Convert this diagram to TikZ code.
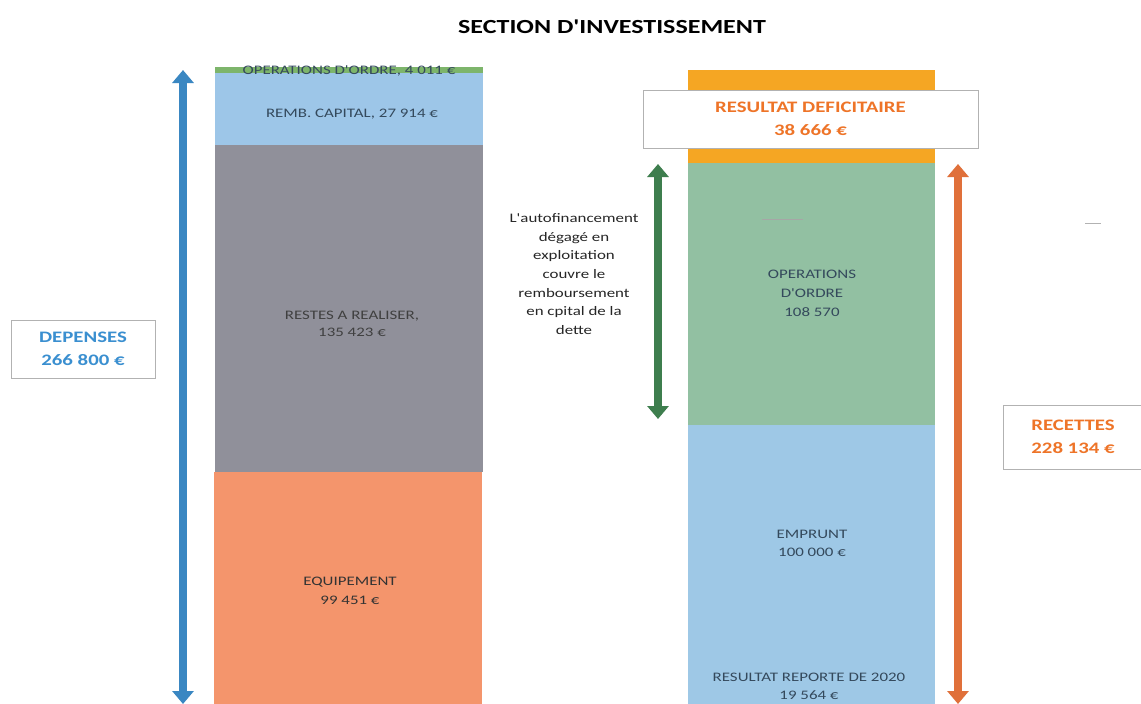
\documentclass[tikz,border=0pt]{standalone}
\usepackage{fontspec}
\setmainfont{Carlito}[FakeStretch=1.3, Ligatures=TeXOff]
\usetikzlibrary{arrows.meta}
\definecolor{cblue}{HTML}{9DC6E8}
\definecolor{cgrey}{HTML}{90909A}
\definecolor{corange}{HTML}{F4956C}
\definecolor{cgreen}{HTML}{7DB56B}
\definecolor{rorange}{HTML}{F5A623}
\definecolor{rgreen}{HTML}{92C0A2}
\definecolor{rblue}{HTML}{9EC8E6}
\definecolor{arrblue}{HTML}{3A87C2}
\definecolor{arrgreen}{HTML}{3E7E4E}
\definecolor{arrorange}{HTML}{E0703A}
\definecolor{lbltext}{HTML}{34495C}
\definecolor{deptext}{HTML}{3A8FD0}
\definecolor{rectext}{HTML}{EE7428}
\tikzset{
  region/.style={fill=#1, draw=none, inner sep=0pt},
  lbl/.style={font=\fontsize{13}{16}\selectfont, text=lbltext, align=center},
  bigarrow/.style={line width=8pt, draw=#1, {Triangle[width=21pt,length=13pt]}-{Triangle[width=21pt,length=13pt]}, shorten <=0pt, shorten >=0pt},
  sumbox/.style={draw=gray!60, line width=0.8pt, fill=white, align=center, font=\bfseries\fontsize{16}{23}\selectfont}
}
\begin{document}
\begin{tikzpicture}[x=1pt,y=-1pt]
\useasboundingbox (0,0) rectangle (1141,704);
\fill[white] (0,0) rectangle (1141,704);
% title
\node[font=\bfseries\fontsize{20}{22}\selectfont] (title) at (612,27) {SECTION D'INVESTISSEMENT};
% left column
\path[region=cgreen] (215,67) rectangle (483,73);
\node[region=cblue, minimum width=268pt, minimum height=72pt] (remb) at (349,109) {};
\node[region=cgrey, minimum width=268pt, minimum height=327pt] (restes) at (348.5,308.5) {};
\node[region=corange, minimum width=268pt, minimum height=233pt] (equip) at (348,588.5) {};
\node[lbl] (opord) at (349,71) {OPERATIONS D'ORDRE, 4 011 €};
\node[lbl] (rembt) at (352,114) {REMB. CAPITAL, 27 914 €};
\node[lbl, text=black!75, font=\fontsize{13}{17}\selectfont] (restest) at (352,324) {RESTES A REALISER,\\135 423 €};
\node[lbl, text=black!80, font=\fontsize{13}{19}\selectfont] (equipt) at (350,591) {EQUIPEMENT\\99 451 €};
% right column
\node[region=rorange, minimum width=247pt, minimum height=93pt] (deficit) at (811.5,116.5) {};
\node[region=rgreen, minimum width=247pt, minimum height=262pt] (ordre) at (811.5,294) {};
\node[region=rblue, minimum width=247pt, minimum height=279pt] (emprunt) at (811.5,564.5) {};
\node[lbl, font=\fontsize{13}{19}\selectfont] (ordret) at (812,293) {OPERATIONS\\D'ORDRE\\108 570};
\node[lbl, font=\fontsize{13}{18}\selectfont] (empruntt) at (812,543) {EMPRUNT\\100 000 €};
\node[lbl, font=\fontsize{13}{18}\selectfont] (reportt) at (809,686) {RESULTAT REPORTE DE 2020\\19 564 €};
\draw[gray!70, line width=0.8pt] (762,219) -- (803,219);
% deficit box
\node[sumbox, text=rectext, minimum width=335pt, minimum height=58pt] (defbox) at (810.5,119) {RESULTAT DEFICITAIRE\\38 666 €};
% summary boxes
\node[sumbox, text=deptext, minimum width=144pt, minimum height=58pt] (dep) at (83,349) {DEPENSES\\266 800 €};
\node[sumbox, text=rectext, minimum width=140pt, minimum height=64pt] (rec) at (1073,437) {RECETTES\\228 134 €};
% arrows
\coordinate (a1) at (183,70);
\coordinate (a2) at (183,704);
\draw[bigarrow=arrblue] (a1) -- (a2);
\coordinate (g1) at (658,164);
\coordinate (g2) at (658,419);
\draw[bigarrow=arrgreen] (g1) -- (g2);
\coordinate (o1) at (958,164);
\coordinate (o2) at (958,704);
\draw[bigarrow=arrorange] (o1) -- (o2);
% note
\node[font=\fontsize{13}{18.7}\selectfont, text=black!85, align=center] (note) at (574,274) {L'autofinancement\\dégagé en\\exploitation\\couvre le\\remboursement\\en cpital de la\\dette};
\coordinate (s1) at (1085,223);
\coordinate (s2) at (1101,223);
\draw[gray!60, line width=1pt] (s1) -- (s2);
\end{tikzpicture}
\end{document}
